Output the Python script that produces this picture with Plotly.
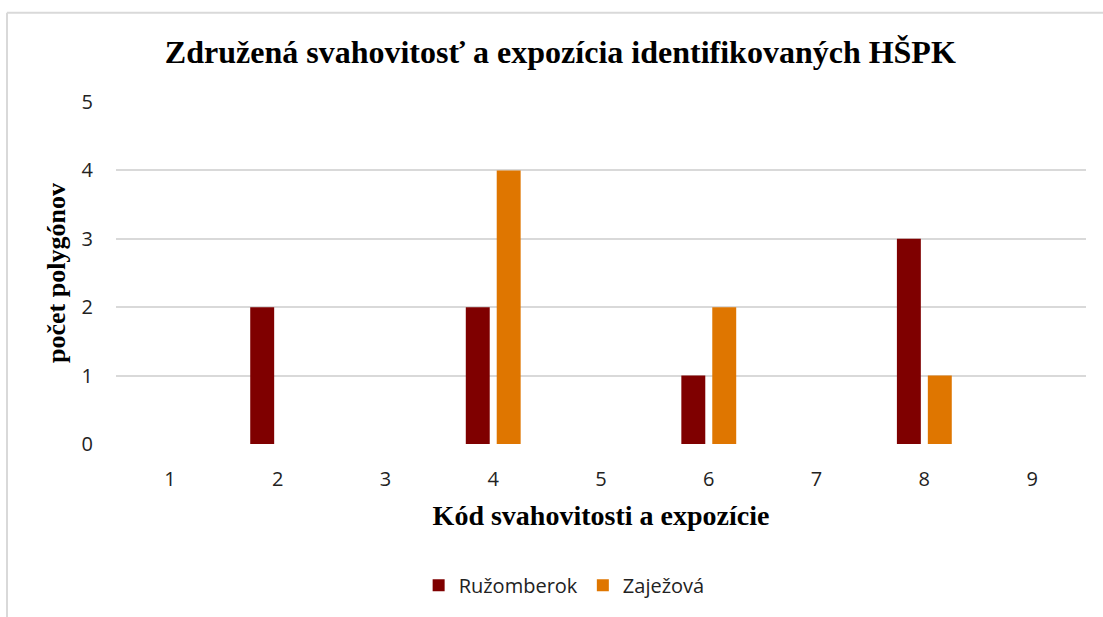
import plotly.graph_objects as go

# Kód svahovitosti a expozície
codes = [1, 2, 3, 4, 5, 6, 7, 8, 9]
ruzomberok = [0, 2, 0, 2, 0, 1, 0, 3, 0]
zajezova = [0, 0, 0, 4, 0, 2, 0, 1, 0]
y_ticks = [0, 1, 2, 3, 4, 5]

serif = 'Liberation Serif'
sans = 'Open Sans'

fig = go.Figure()
fig.add_trace(go.Bar(x=codes, y=ruzomberok, name='Ružomberok',
                     marker=dict(color='#7F0000', line_width=0)))
fig.add_trace(go.Bar(x=codes, y=zajezova, name='Zaježová',
                     marker=dict(color='#DF7600', line_width=0)))

fig.update_layout(
    width=1103, height=617,
    margin=dict(l=116, r=17, t=102, b=170),
    paper_bgcolor='white', plot_bgcolor='white',
    barmode='group', bargap=0.426, bargroupgap=0.226,
    title=dict(text='<b>Združená svahovitosť a expozícia identifikovaných HŠPK</b>',
               x=0.508, xanchor='center', y=1 - 52 / 617, yanchor='middle',
               font=dict(family=serif, size=32, color='black')),
    font=dict(family=sans, size=20, color='#222'),
    xaxis=dict(
        tickmode='array', tickvals=codes, ticktext=[str(c) for c in codes],
        range=[0.5, 9.5], showgrid=False, zeroline=False, showline=False,
        ticklabelstandoff=21,
        tickfont=dict(family=sans, size=20, color='#222'),
        title=dict(text='<b>Kód svahovitosti a expozície</b>', standoff=14,
                   font=dict(family=serif, size=28, color='black')),
    ),
    yaxis=dict(
        tickmode='array', tickvals=y_ticks, range=[0, 5.0],
        showgrid=True, gridcolor='#D9D9D9', gridwidth=1.5,
        zeroline=False, showline=False, ticklabelstandoff=22,
        tickfont=dict(family=sans, size=20, color='#222'),
        title=dict(text='<b>počet polygónov</b>', standoff=8,
                   font=dict(family=serif, size=26, color='black')),
    ),
    legend=dict(orientation='h', x=0.462, xanchor='center', y=-0.413, yanchor='middle',
                font=dict(family=sans, size=20, color='#222'),
                itemwidth=30, traceorder='normal'),
    shapes=[
        dict(type='line', xref='paper', yref='paper', x0=(7 - 116) / 970, x1=1.1,
             y0=1 + (102 - 12) / 345, y1=1 + (102 - 12) / 345,
             line=dict(color='#D9D9D9', width=2)),
        dict(type='line', xref='paper', yref='paper', x0=(7 - 116) / 970, x1=(7 - 116) / 970,
             y0=1 + (102 - 12) / 345, y1=-0.6,
             line=dict(color='#D9D9D9', width=2)),
    ],
)

fig.write_html('out.html', config={'displayModeBar': False},
               post_script="document.body.style.margin='0';")
